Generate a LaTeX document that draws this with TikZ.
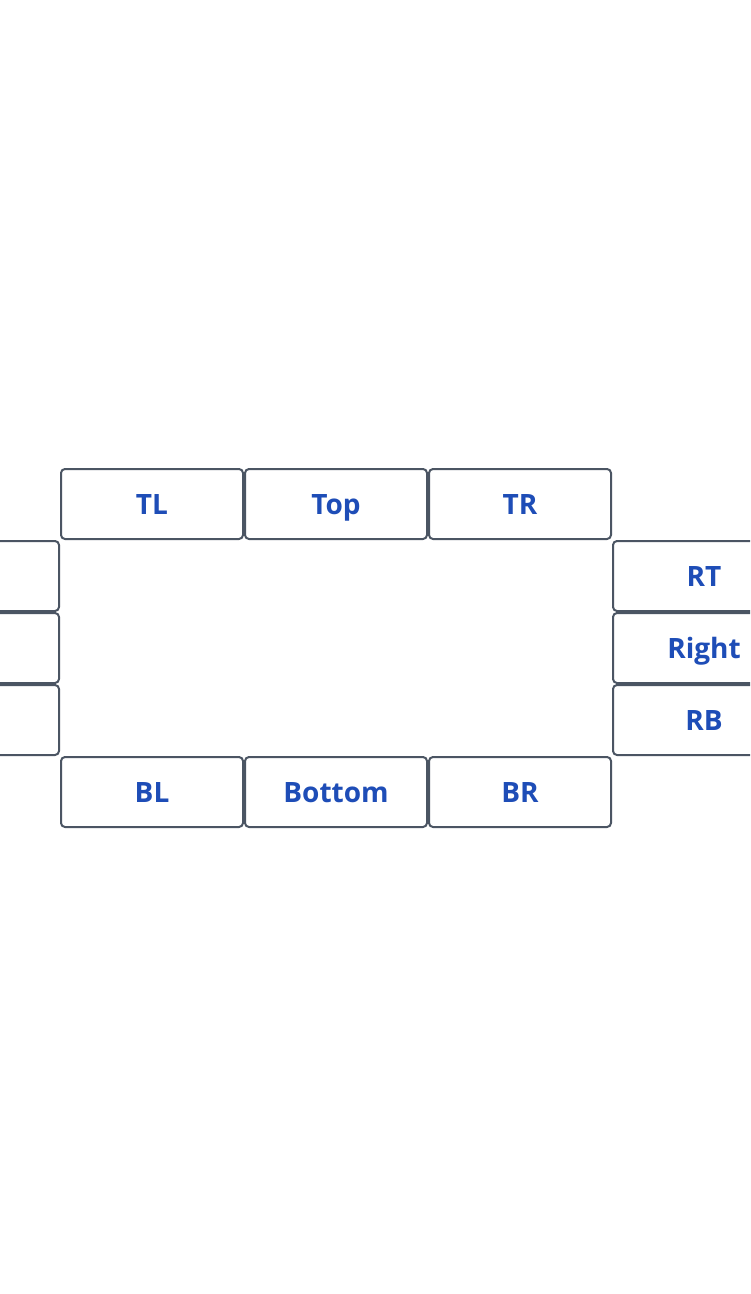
\documentclass[tikz,border=0pt]{standalone}
\usepackage{fontspec}
\setmainfont{Open Sans}
\definecolor{boxline}{HTML}{4B5563}
\definecolor{labelblue}{HTML}{1E4DB7}
\begin{document}
\begin{tikzpicture}[x=0.75pt,y=-0.75pt,
  cell/.style={draw=boxline,line width=1.5pt,rounded corners=3pt,fill=white,
    minimum width=136.5pt,minimum height=52.5pt,inner sep=0pt,
    text height=15pt,text depth=0pt,
    font=\fontsize{21}{25}\selectfont\bfseries,text=labelblue}]
\useasboundingbox[fill=white] (0,0) rectangle (750,1294);
\clip (0,0) rectangle (750,1294);
% top row
\node[cell] (tl) at (152,504) {TL};
\node[cell] (top) at (336,504) {Top};
\node[cell] (tr) at (520,504) {TR};
% left column (labels off the page)
\node[cell] (lt) at (-32,576) {};
\node[cell] (left) at (-32,648) {};
\node[cell] (lb) at (-32,720) {};
% right column
\node[cell] (rt) at (704,576) {RT};
\node[cell] (right) at (704,648) {Right};
\node[cell] (rb) at (704,720) {RB};
% bottom row
\node[cell] (bl) at (152,792) {BL};
\node[cell] (bottom) at (336,792) {Bottom};
\node[cell] (br) at (520,792) {BR};
\end{tikzpicture}
\end{document}
